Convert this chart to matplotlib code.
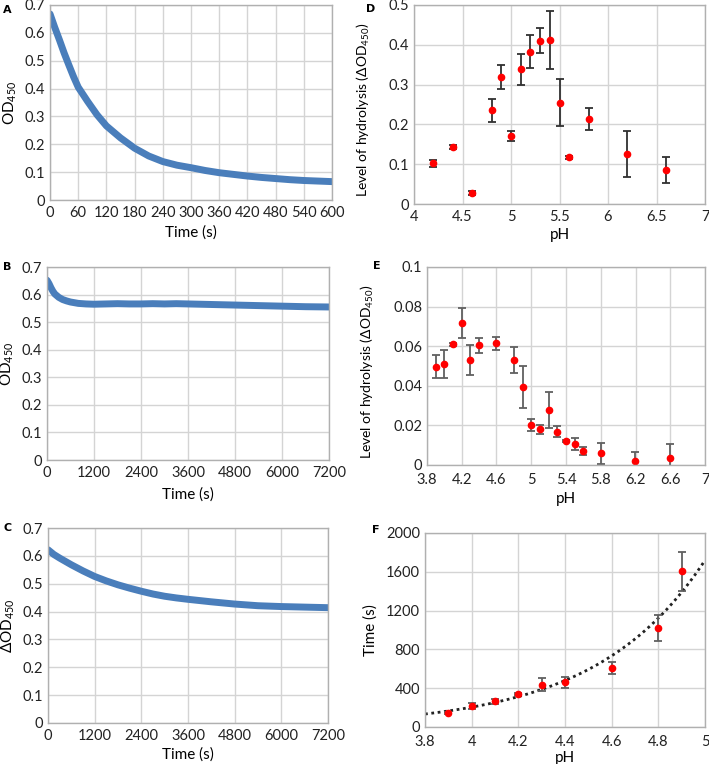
import numpy as np
import matplotlib
matplotlib.use("Agg")
import matplotlib.pyplot as plt

plt.rcParams['font.family'] = ['Lato', 'DejaVu Sans']
plt.rcParams['mathtext.fontset'] = 'custom'
plt.rcParams['mathtext.rm'] = 'Lato'
plt.rcParams['mathtext.it'] = 'Lato:italic'

# ---- Panel A data ----
a_time = [0, 10, 20, 30, 40, 50, 60, 80, 100, 120, 150, 180, 210, 240, 270, 300,
          330, 360, 390, 420, 450, 480, 510, 540, 570, 600]
a_od = [0.668, 0.620, 0.575, 0.528, 0.485, 0.443, 0.405, 0.354, 0.306, 0.266, 0.223,
        0.186, 0.158, 0.138, 0.125, 0.116, 0.106, 0.098, 0.092, 0.086, 0.081, 0.077,
        0.073, 0.070, 0.068, 0.066]

# ---- Panel B data ----
b_time = [0, 50, 100, 150, 200, 300, 400, 500, 600, 800, 1000, 1200, 1500, 1800, 2100,
          2400, 2700, 3000, 3300, 3600, 4200, 4800, 5400, 6000, 6600, 7200]
b_od = [0.652, 0.640, 0.625, 0.612, 0.602, 0.590, 0.582, 0.577, 0.573, 0.568, 0.566,
        0.565, 0.566, 0.567, 0.566, 0.566, 0.567, 0.566, 0.567, 0.566, 0.564, 0.562,
        0.560, 0.558, 0.556, 0.555]

# ---- Panel C data ----
c_time = [0, 150, 300, 600, 900, 1200, 1500, 1800, 2100, 2400, 2700, 3000, 3300, 3600,
          4200, 4800, 5400, 6000, 6600, 7200]
c_dod = [0.622, 0.605, 0.592, 0.568, 0.546, 0.526, 0.510, 0.496, 0.484, 0.473, 0.463,
         0.455, 0.449, 0.444, 0.435, 0.427, 0.421, 0.418, 0.416, 0.414]

# ---- Panel D data ----
d_ph = [4.2, 4.4, 4.6, 4.8, 4.9, 5.0, 5.1, 5.2, 5.3, 5.4, 5.5, 5.6, 5.8, 6.2, 6.6]
d_val = [0.102, 0.144, 0.028, 0.235, 0.320, 0.171, 0.338, 0.383, 0.410, 0.412, 0.255,
         0.117, 0.214, 0.126, 0.085]
d_err = [0.008, 0.005, 0.005, 0.029, 0.030, 0.012, 0.038, 0.041, 0.031, 0.072, 0.058,
         0.003, 0.028, 0.057, 0.033]

# ---- Panel E data ----
e_ph = [3.9, 4.0, 4.1, 4.2, 4.3, 4.4, 4.6, 4.8, 4.9, 5.0, 5.1, 5.2, 5.3, 5.4, 5.5, 5.6,
        5.8, 6.2, 6.6]
e_val = [0.0497, 0.0511, 0.0610, 0.0717, 0.0531, 0.0604, 0.0614, 0.0531, 0.0393, 0.0204,
         0.0180, 0.0277, 0.0167, 0.0120, 0.0106, 0.0073, 0.0059, 0.0022, 0.0035]
e_err = [0.0057, 0.0071, 0.0007, 0.0075, 0.0074, 0.0038, 0.0033, 0.0066, 0.0107, 0.0030,
         0.0024, 0.0090, 0.0028, 0.0006, 0.0030, 0.0020, 0.0052, 0.0045, 0.0069]

# ---- Panel F data ----
f_ph = [3.9, 4.0, 4.1, 4.2, 4.3, 4.4, 4.6, 4.8, 4.9]
f_time = [144, 216, 265, 344, 436, 460, 608, 1024, 1605]
f_err = [10, 33, 24, 10, 67, 55, 60, 135, 200]

W, H = 709, 764
fig = plt.figure(figsize=(W / 100, H / 100), dpi=100)

def make_ax(x0, x1, ytop, ybot):
    return fig.add_axes([x0 / W, 1 - ybot / H, (x1 - x0) / W, (ybot - ytop) / H])

GRID = '#d4d4d4'
SPINE = '#b0b0b0'
BLUE = '#4a7ebb'
FS = 10.5
LFS = 11
HFS = 10

def style(ax, xlim, xticks, ylim, yticks, xlabels=None, ylabels=None):
    ax.set_xlim(*xlim)
    ax.set_ylim(*ylim)
    ax.set_xticks(xticks)
    ax.set_yticks(yticks)
    if xlabels is not None:
        ax.set_xticklabels(xlabels)
    if ylabels is not None:
        ax.set_yticklabels(ylabels)
    ax.grid(True, color=GRID, linewidth=1.0)
    ax.set_axisbelow(True)
    for s in ax.spines.values():
        s.set_color(SPINE)
        s.set_linewidth(1.0)
    ax.tick_params(length=0, labelsize=FS, colors='#222222')
    ax.tick_params(axis='x', pad=4.5)
    ax.tick_params(axis='y', pad=3.5)

def lab(txt, x, y):
    fig.text(x / W, 1 - y / H, txt, fontsize=8, fontweight='bold',
             family='DejaVu Sans', ha='left', va='center')

OD_TICKS = ['0', '0.1', '0.2', '0.3', '0.4', '0.5', '0.6', '0.7']

# Panel A
axA = make_ax(50, 332, 5, 200)
axA.plot(a_time, a_od, color=BLUE, lw=5, solid_capstyle='round', solid_joinstyle='round')
style(axA, (0, 600), np.arange(0, 601, 60), (0, 0.7), np.arange(0, 0.71, 0.1),
      ylabels=OD_TICKS)
axA.set_xlabel('Time (s)', fontsize=LFS, labelpad=4)
axA.set_ylabel('OD$_{450}$', fontsize=LFS, labelpad=4)
lab('A', 3, 10)

# Panel B
axB = make_ax(47, 329, 267, 460)
axB.plot(b_time, b_od, color=BLUE, lw=5, solid_capstyle='round', solid_joinstyle='round')
style(axB, (0, 7200), np.arange(0, 7201, 1200), (0, 0.7), np.arange(0, 0.71, 0.1),
      ylabels=OD_TICKS)
axB.set_xlabel('Time (s)', fontsize=LFS, labelpad=5)
axB.set_ylabel('OD$_{450}$', fontsize=LFS, labelpad=4)
lab('B', 3, 267)

# Panel C
axC = make_ax(48, 328, 528, 723)
axC.plot(c_time, c_dod, color=BLUE, lw=5, solid_capstyle='round', solid_joinstyle='round')
style(axC, (0, 7200), np.arange(0, 7201, 1200), (0, 0.7), np.arange(0, 0.71, 0.1),
      ylabels=OD_TICKS)
axC.set_xlabel('Time (s)', fontsize=LFS, labelpad=3)
axC.set_ylabel('ΔOD$_{450}$', fontsize=LFS, labelpad=4)
lab('C', 3, 528)

# Panel D
axD = make_ax(414, 705, 5, 204)
axD.errorbar(d_ph, d_val, yerr=d_err, fmt='o', color='red', ms=4.5, ecolor='#303030',
             elinewidth=1.3, capsize=3, capthick=1.3)
style(axD, (4, 7), np.arange(4, 7.01, 0.5), (0, 0.5), np.arange(0, 0.51, 0.1),
      xlabels=['4', '4.5', '5', '5.5', '6', '6.5', '7'],
      ylabels=['0', '0.1', '0.2', '0.3', '0.4', '0.5'])
axD.set_xlabel('pH', fontsize=LFS, labelpad=3)
axD.set_ylabel('Level of hydrolysis (ΔOD$_{450}$)', fontsize=HFS, labelpad=5)
axD.yaxis.set_label_coords(-0.145, 0.475)
lab('D', 366, 9)

# Panel E
axE = make_ax(427, 705, 267, 465)
axE.errorbar(e_ph, e_val, yerr=e_err, fmt='o', color='red', ms=4.5, ecolor='#606060',
             elinewidth=1.3, capsize=3, capthick=1.3)
style(axE, (3.8, 7), np.arange(3.8, 7.01, 0.4), (0, 0.1), np.arange(0, 0.101, 0.02),
      xlabels=['3.8', '4.2', '4.6', '5', '5.4', '5.8', '6.2', '6.6', '7'],
      ylabels=['0', '0.02', '0.04', '0.06', '0.08', '0.1'])
axE.tick_params(axis='x', pad=6)
axE.set_xlabel('pH', fontsize=LFS, labelpad=3)
axE.set_ylabel('Level of hydrolysis (ΔOD$_{450}$)', fontsize=HFS, labelpad=5)
axE.yaxis.set_label_coords(-0.185, 0.47)
lab('E', 373, 266)

# Panel F
axF = make_ax(425, 705, 533, 727)
coef = np.polyfit(f_ph, np.log(f_time), 1)
xt = np.linspace(3.8, 5.0, 200)
axF.plot(xt, np.exp(np.polyval(coef, xt)), color='#222222', lw=2, ls=(0, (1, 1.3)))
axF.errorbar(f_ph, f_time, yerr=f_err, fmt='o', color='red', ms=4.5, ecolor='#606060',
             elinewidth=1.3, capsize=3, capthick=1.3)
style(axF, (3.8, 5.0), np.arange(3.8, 5.01, 0.2), (0, 2000), np.arange(0, 2001, 400),
      xlabels=['3.8', '4', '4.2', '4.4', '4.6', '4.8', '5'],
      ylabels=['0', '400', '800', '1200', '1600', '2000'])
axF.tick_params(axis='x', pad=6)
axF.set_xlabel('pH', fontsize=LFS, labelpad=1)
axF.set_ylabel('Time (s)', fontsize=LFS, labelpad=6)
lab('F', 372, 530)

fig.savefig('out.png', dpi=100)
